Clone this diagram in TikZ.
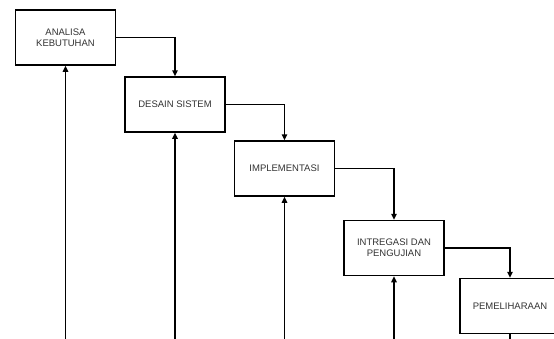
\documentclass[tikz,border=0pt]{standalone}
\usepackage{fontspec}
\setmainfont{Liberation Sans}
\usetikzlibrary{arrows.meta}
\begin{document}
\begin{tikzpicture}[x=1pt,y=-1pt,
  stage/.style={draw=black, line width=1.5pt, fill=white, minimum width=100pt, minimum height=55pt,
    inner sep=0pt, align=center, text=black!80, font=\fontsize{9.5}{11}\selectfont},
  flow/.style={line width=1.5pt, -{Triangle[length=6pt,width=5.5pt]}},
  link/.style={line width=1.5pt}]
\useasboundingbox (0,0) rectangle (554,338);
\fill[white] (0,0) rectangle (554,338);
\clip (0,0) rectangle (554,338);
\node[stage] (b1) at (65.5,37.5) {ANALISA\\KEBUTUHAN};
\node[stage] (b2) at (175,104.5) {DESAIN SISTEM};
\node[stage] (b3) at (284.5,168.5) {IMPLEMENTASI};
\node[stage] (b4) at (394,248) {INTREGASI DAN\\PENGUJIAN};
\node[stage] (b5) at (510,306) {PEMELIHARAAN};
\coordinate (u1) at (65.5,345);
\coordinate (u2) at (175,345);
\coordinate (u3) at (284.5,345);
\coordinate (u4) at (394,345);
\coordinate (u5) at (510,345);
\draw[flow] (b1.east) -| (b2.north);
\draw[flow] (b2.east) -| (b3.north);
\draw[flow] (b3.east) -| (b4.north);
\draw[flow] (b4.east) -| (b5.north);
\draw[flow] (u1) -- (b1.south);
\draw[flow] (u2) -- (b2.south);
\draw[flow] (u3) -- (b3.south);
\draw[flow] (u4) -- (b4.south);
\draw[link] (b5.south) -- (u5);
\end{tikzpicture}
\end{document}
